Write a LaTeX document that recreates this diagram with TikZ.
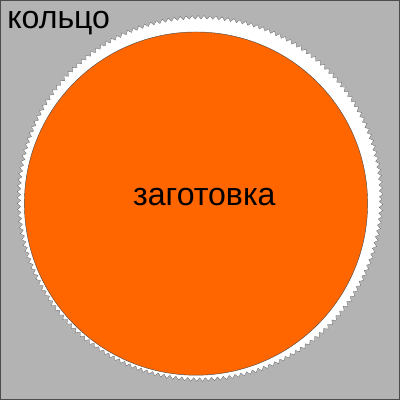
\documentclass[tikz,border=0pt]{standalone}
\usepackage{fontspec}
\setmainfont{Liberation Sans}
\usetikzlibrary{decorations.pathmorphing}
\definecolor{bggray}{HTML}{B3B3B3}
\definecolor{blankorange}{HTML}{FF6600}

\begin{document}
\begin{tikzpicture}
\def\ringShape{(5.0,5.04) circle [radius = 4.53cm]}
\def\blankShape{(4.9,4.91) circle [radius = 4.29cm]}
\useasboundingbox (0,0) rectangle (10,10);
\fill[bggray] (0,0) rectangle (10,10);
\draw[gray!60!black, line width=0.4pt] (0.01,0.01) rectangle (9.99,9.99);
\draw[fill=white, draw=gray!70!black, line width=0.2pt, decorate,
  decoration={zigzag, segment length=0.15cm, amplitude=0.045cm}] \ringShape;
\draw[fill=blankorange, draw=black!70, line width=0.3pt] \blankShape;
\node (ring) [anchor=base west, inner sep=0pt] at (0.175,9.275)
  {\fontsize{22.8}{27}\selectfont кольцо};
\node (blank) [anchor=base, inner sep=0pt] at (5.11,4.85)
  {\fontsize{22.8}{27}\selectfont заготовка};
\end{tikzpicture}
\end{document}
